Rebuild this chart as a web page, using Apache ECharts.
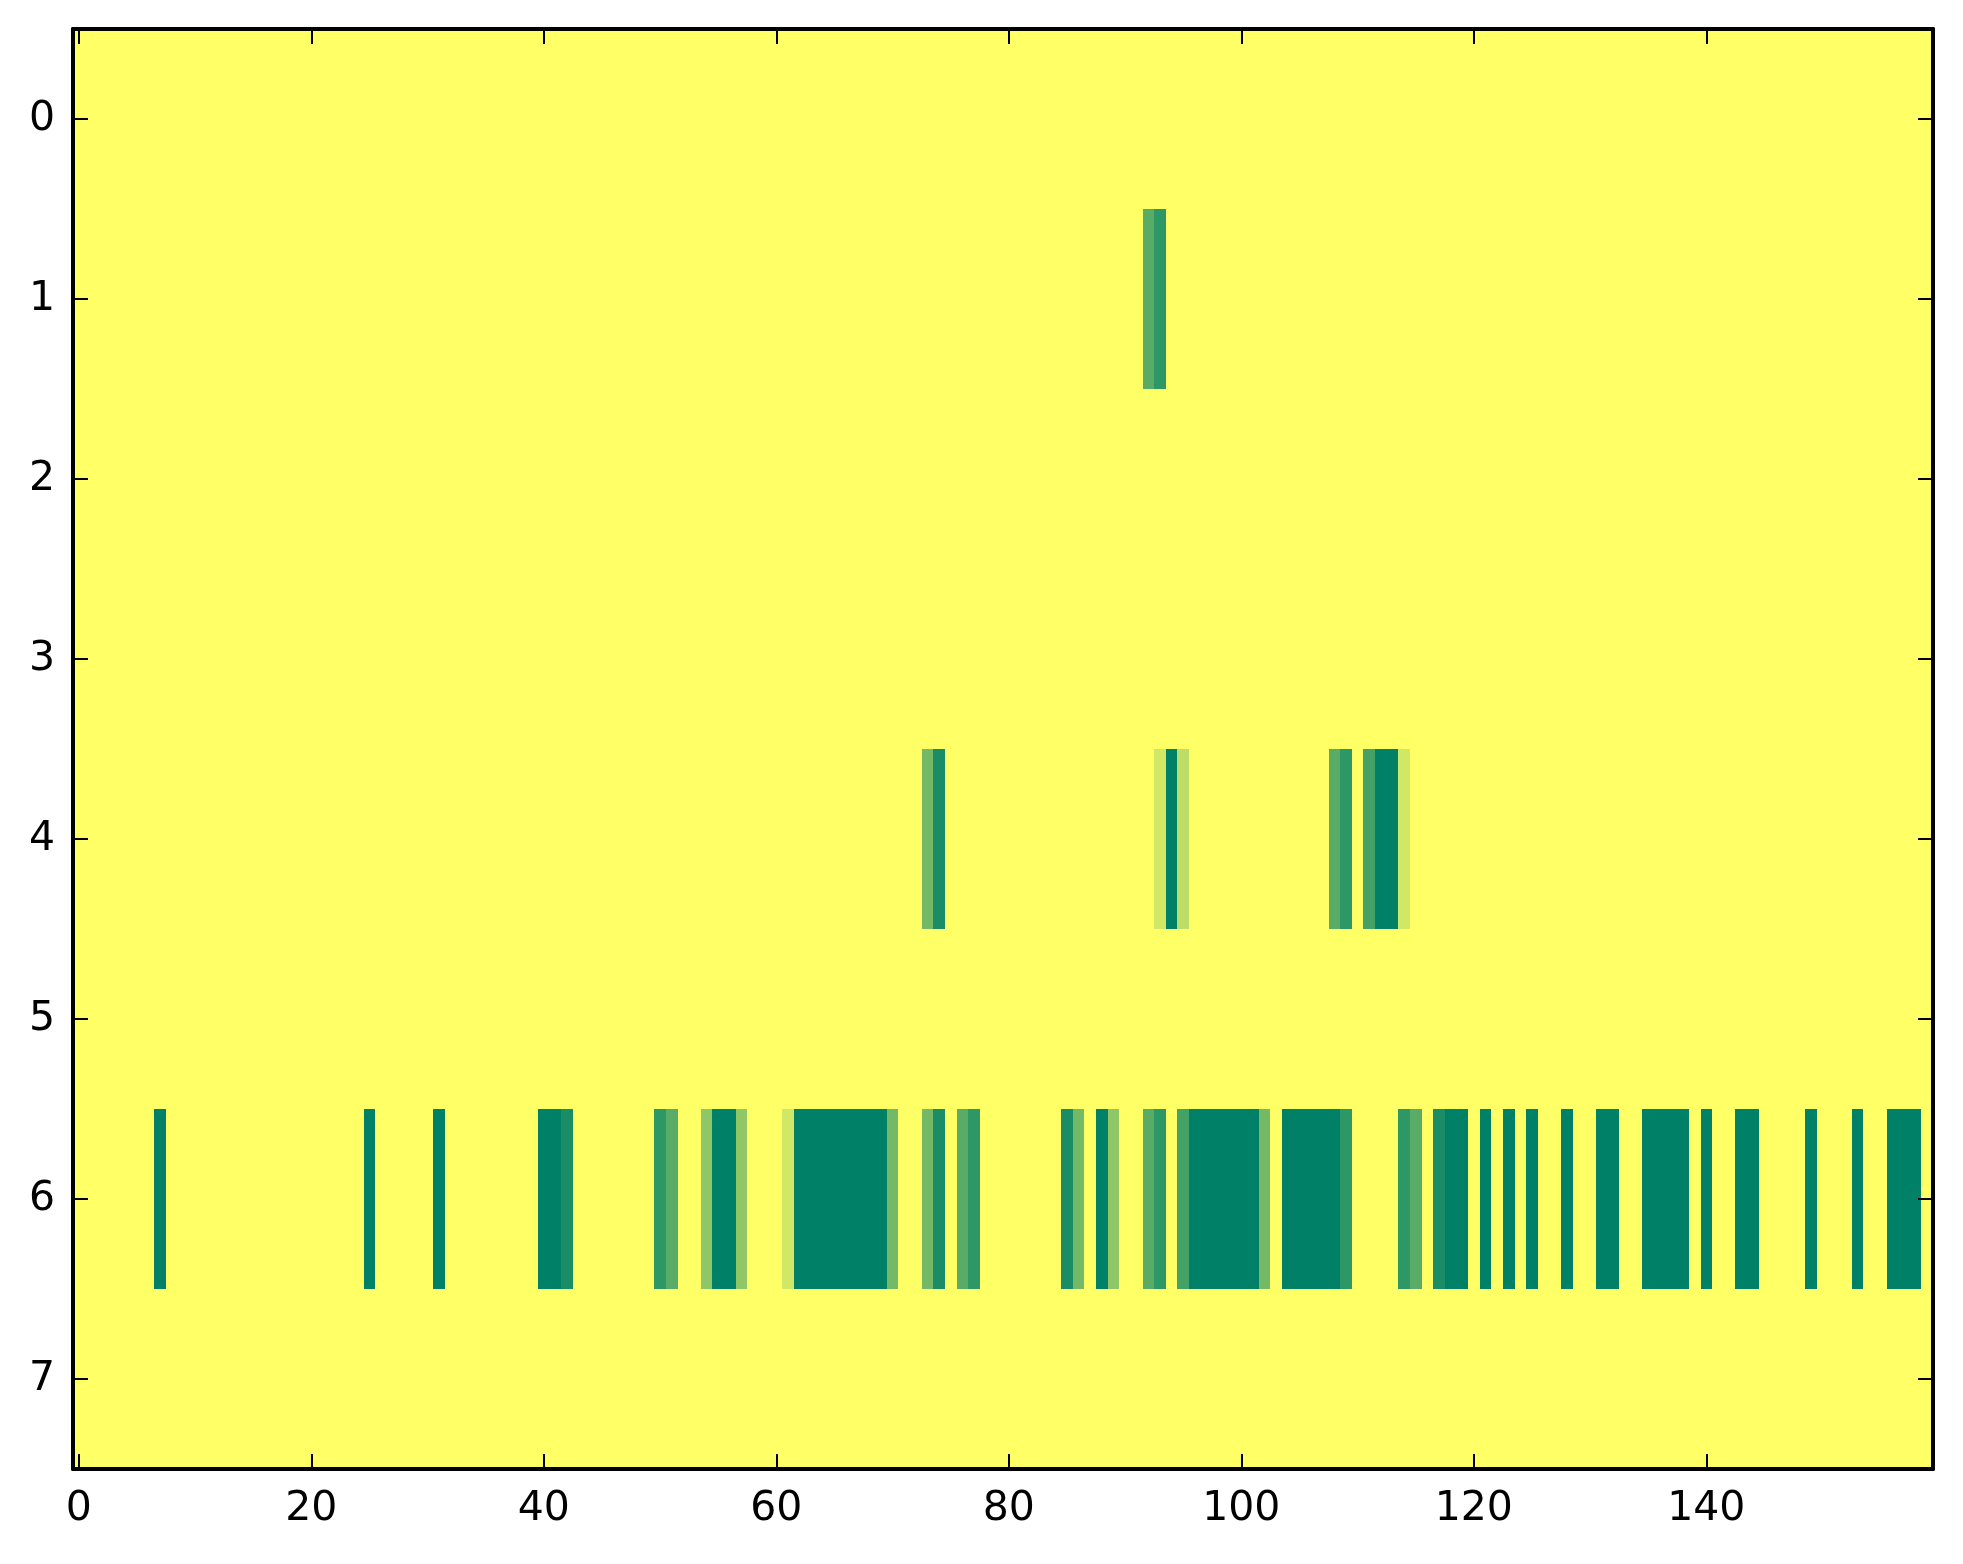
<!DOCTYPE html>
<html>
<head>
<meta charset="utf-8">
<script src="https://cdn.jsdelivr.net/npm/echarts@6/dist/echarts.min.js"></script>
<style>
html,body{margin:0;padding:0;background:#fff;}
#chart{width:1963px;height:1564px;}
</style>
</head>
<body>
<div id="chart"></div>
<script>
// Grid size
var nCols = 160;
var nRows = 8;
// Tick labels
var xTicks = [0, 20, 40, 60, 80, 100, 120, 140];
var yTicks = [0, 1, 2, 3, 4, 5, 6, 7];
// Value for cells not listed below (yellow)
var baseValue = 1;
// Non-yellow cells per row: [column, value]
var row1 = [[92, 0.35], [93, 0.18]];
var row4 = [[73, 0.45], [74, 0.1], [93, 0.82], [94, 0], [95, 0.74],
            [108, 0.35], [109, 0.18], [111, 0.27], [112, 0], [113, 0], [114, 0.82]];
var row6 = [[7, 0], [25, 0], [31, 0], [40, 0], [41, 0], [42, 0.1],
            [50, 0.18], [51, 0.35], [54, 0.56], [55, 0], [56, 0], [57, 0.56],
            [61, 0.82], [62, 0], [63, 0], [64, 0], [65, 0], [66, 0], [67, 0], [68, 0], [69, 0],
            [70, 0.45], [73, 0.45], [74, 0.1], [76, 0.35], [77, 0.18],
            [85, 0.1], [86, 0.45], [88, 0], [89, 0.56], [92, 0.35], [93, 0.18],
            [95, 0.27], [96, 0], [97, 0], [98, 0], [99, 0], [100, 0], [101, 0],
            [102, 0.45], [104, 0], [105, 0], [106, 0], [107, 0], [108, 0], [109, 0.18],
            [114, 0.18], [115, 0.35], [117, 0.1], [118, 0], [119, 0],
            [121, 0], [123, 0], [125, 0], [128, 0], [131, 0], [132, 0],
            [135, 0], [136, 0], [137, 0], [138, 0], [140, 0], [143, 0], [144, 0],
            [149, 0], [153, 0], [156, 0], [157, 0], [158, 0]];
var rowEntries = {1: row1, 4: row4, 6: row6};

var cells = [];
for (var r = 0; r < nRows; r++) {
  var lookup = {};
  (rowEntries[r] || []).forEach(function (e) { lookup[e[0]] = e[1]; });
  for (var c = 0; c < nCols; c++) {
    cells.push([c, r, lookup.hasOwnProperty(c) ? lookup[c] : baseValue]);
  }
}

var chart = echarts.init(document.getElementById('chart'), null, {renderer: 'canvas'});
var font = 'DejaVu Sans';
var lineStyle = {color: '#000', width: 4};
var tickStyle = {color: '#000', width: 2};

function xAx(pos, showLabel) {
  return {
    type: 'value', position: pos, min: -0.5, max: nCols - 0.5, z: 10,
    axisLine: {show: true, onZero: false, lineStyle: lineStyle},
    axisTick: {show: true, inside: true, length: 15, lineStyle: tickStyle, customValues: xTicks},
    axisLabel: {show: showLabel, customValues: xTicks, margin: 20, color: '#000', fontFamily: font, fontSize: 41},
    splitLine: {show: false}
  };
}
function yAx(pos, showLabel) {
  return {
    type: 'value', position: pos, min: -0.5, max: nRows - 0.5, inverse: true, z: 10,
    axisLine: {show: true, onZero: false, lineStyle: lineStyle},
    axisTick: {show: true, inside: true, length: 15, lineStyle: tickStyle, customValues: yTicks},
    axisLabel: {show: showLabel, customValues: yTicks, margin: 18, color: '#000', fontFamily: font, fontSize: 41},
    splitLine: {show: false}
  };
}

chart.setOption({
  animation: false,
  backgroundColor: '#fff',
  grid: {left: 73, right: 30, top: 29, bottom: 95, containLabel: false},
  xAxis: [xAx('bottom', true), xAx('top', false)],
  yAxis: [yAx('left', true), yAx('right', false)],
  visualMap: {
    show: false, type: 'continuous', min: 0, max: 1, dimension: 2, seriesIndex: 0,
    inRange: {color: ['#008066', '#ffff66']}
  },
  series: [{
    type: 'custom',
    xAxisIndex: 0, yAxisIndex: 0,
    data: cells,
    encode: {x: 0, y: 1},
    renderItem: function (params, api) {
      var c = api.value(0), r = api.value(1);
      var p0 = api.coord([c - 0.5, r - 0.5]);
      var p1 = api.coord([c + 0.5, r + 0.5]);
      var x0 = Math.round(Math.min(p0[0], p1[0])), x1 = Math.round(Math.max(p0[0], p1[0]));
      var y0 = Math.round(Math.min(p0[1], p1[1])), y1 = Math.round(Math.max(p0[1], p1[1]));
      return {
        type: 'rect',
        shape: {x: x0, y: y0, width: x1 - x0, height: y1 - y0},
        style: {fill: api.visual('color')}
      };
    }
  }]
});
</script>
</body>
</html>
